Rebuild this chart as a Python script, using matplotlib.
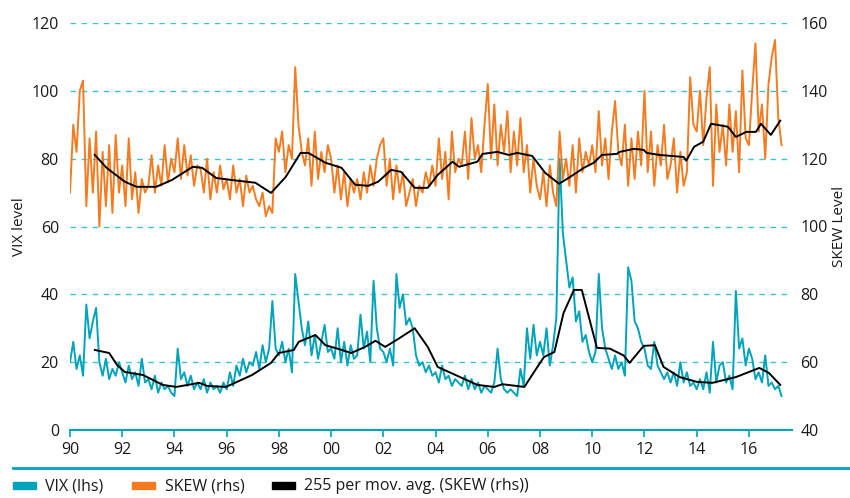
import numpy as np
import matplotlib
matplotlib.use("Agg")
import matplotlib.pyplot as plt
from matplotlib.lines import Line2D
from matplotlib.patches import Rectangle

plt.rcParams["font.family"] = ["Open Sans", "DejaVu Sans"]

# VIX (lhs), 8 readings per year from 1990, last ones early 2017
vix = (
    [20, 26, 18, 22, 16, 37, 27, 32]      # 1990
    + [36, 20, 16, 21, 15, 18, 16, 20]    # 1991
    + [17, 14, 19, 15, 17, 13, 21, 14]    # 1992
    + [15, 12, 16, 11, 14, 12, 13, 11]    # 1993
    + [10, 24, 15, 17, 13, 16, 12, 14]    # 1994
    + [12, 15, 11, 14, 12, 13, 11, 14]    # 1995
    + [12, 17, 13, 19, 16, 21, 17, 20]    # 1996
    + [19, 23, 18, 25, 20, 24, 38, 24]    # 1997
    + [22, 26, 20, 24, 17, 46, 38, 30]    # 1998
    + [25, 32, 22, 28, 21, 26, 31, 23]    # 1999
    + [24, 21, 30, 20, 26, 19, 25, 21]    # 2000
    + [22, 34, 24, 29, 20, 44, 30, 24]    # 2001
    + [23, 20, 24, 19, 46, 36, 40, 31]    # 2002
    + [33, 30, 22, 19, 20, 17, 19, 16]    # 2003
    + [17, 14, 19, 15, 16, 13, 15, 14]    # 2004
    + [13, 16, 12, 15, 12, 14, 11, 13]    # 2005
    + [12, 11, 14, 24, 15, 12, 11, 12]    # 2006
    + [11, 10, 18, 13, 30, 21, 31, 22]    # 2007
    + [26, 22, 30, 19, 25, 33, 80, 58]    # 2008
    + [50, 42, 45, 32, 35, 26, 28, 23]    # 2009
    + [20, 23, 46, 30, 24, 21, 18, 22]    # 2010
    + [18, 20, 16, 48, 44, 32, 30, 26]    # 2011
    + [24, 19, 18, 26, 19, 17, 15, 17]    # 2012
    + [14, 17, 13, 20, 14, 17, 13, 14]    # 2013
    + [12, 15, 12, 17, 11, 26, 14, 19]    # 2014
    + [20, 14, 16, 12, 41, 24, 27, 19]    # 2015
    + [24, 21, 15, 17, 14, 22, 13, 14]    # 2016
    + [12, 13, 10]                        # 2017
)

# SKEW (rhs), same spacing
skew = (
    [110, 130, 122, 140, 143, 106, 126, 110]    # 1990
    + [128, 100, 122, 106, 124, 104, 127, 110]  # 1991
    + [118, 106, 126, 108, 116, 104, 114, 110]  # 1992
    + [112, 121, 110, 118, 112, 124, 113, 120]  # 1993
    + [116, 126, 114, 124, 115, 121, 112, 118]  # 1994
    + [117, 110, 120, 108, 116, 110, 118, 111]  # 1995
    + [114, 108, 118, 110, 114, 106, 115, 110]  # 1996
    + [112, 108, 106, 110, 103, 106, 104, 126]  # 1997
    + [122, 128, 116, 124, 120, 147, 130, 122]  # 1998
    + [118, 126, 112, 128, 114, 122, 116, 124]  # 1999
    + [120, 110, 118, 108, 116, 106, 114, 110]  # 2000
    + [114, 108, 116, 110, 118, 112, 120, 124]  # 2001
    + [126, 112, 120, 108, 118, 110, 116, 106]  # 2002
    + [110, 114, 106, 112, 110, 116, 112, 118]  # 2003
    + [112, 126, 114, 122, 108, 128, 116, 120]  # 2004
    + [118, 128, 114, 132, 120, 124, 116, 130]  # 2005
    + [142, 120, 136, 118, 130, 122, 134, 116]  # 2006
    + [128, 118, 132, 116, 124, 110, 120, 112]  # 2007
    + [108, 116, 106, 118, 110, 106, 128, 114]  # 2008
    + [120, 112, 124, 110, 126, 116, 122, 118]  # 2009
    + [124, 116, 134, 118, 126, 114, 128, 137]  # 2010
    + [122, 118, 130, 112, 126, 114, 128, 118]  # 2011
    + [140, 116, 128, 112, 124, 118, 130, 114]  # 2012
    + [118, 126, 110, 122, 112, 116, 144, 130]  # 2013
    + [128, 140, 124, 138, 147, 112, 136, 122]  # 2014
    + [130, 118, 136, 122, 134, 116, 146, 126]  # 2015
    + [124, 140, 154, 128, 136, 120, 142, 150]  # 2016
    + [155, 132, 124]                           # 2017
)

# 255 day moving averages
vix_ma_years = [1990.95, 1991.5, 1991.8, 1992.1, 1992.8, 1993.55, 1994.07, 1994.95,
                1995.25, 1995.97, 1996.97, 1997.7, 1998.0, 1998.57, 1998.76, 1999.4,
                1999.78, 2000.28, 2000.77, 2001.3, 2001.7, 2002.07, 2002.56, 2003.2,
                2003.7, 2004.08, 2005.6, 2006.25, 2006.56, 2007.4, 2007.9, 2008.15,
                2008.55, 2008.9, 2009.3, 2009.6, 2010.18, 2010.67, 2011.2, 2011.43,
                2011.97, 2012.4, 2012.73, 2013.35, 2014.0, 2014.6, 2015.5, 2016.4,
                2016.77, 2017.2]
vix_ma = [23.6, 22.7, 19.2, 17.1, 16.2, 13.3, 12.7, 13.9, 13.0, 12.7, 16.2, 19.8,
          22.7, 23.6, 26.0, 28.0, 25.0, 23.9, 22.7, 24.5, 26.3, 24.5, 26.8, 30.0,
          24.5, 18.6, 13.3, 12.7, 13.5, 12.7, 18.6, 21.5, 23.0, 34.5, 41.3, 41.3,
          24.2, 24.0, 22.0, 19.8, 24.8, 25.0, 18.6, 15.6, 14.2, 13.9, 15.6, 18.3,
          16.8, 13.3]

skew_ma_years = [1990.95, 1991.4, 1992.1, 1992.55, 1993.3, 1993.9, 1994.7, 1995.06,
                 1995.6, 1996.2, 1997.1, 1997.7, 1998.26, 1998.83, 1999.13, 1999.78,
                 2000.4, 2000.92, 2001.42, 2001.8, 2002.3, 2002.68, 2003.2, 2003.7,
                 2004.08, 2004.65, 2004.9, 2005.6, 2005.8, 2006.37, 2006.8, 2007.13,
                 2007.7, 2008.2, 2008.73, 2009.15, 2009.68, 2010.06, 2010.37, 2010.94,
                 2011.05, 2011.6, 2011.97, 2012.08, 2012.57, 2013.5, 2013.6, 2013.9,
                 2014.25, 2014.55, 2015.2, 2015.5, 2015.9, 2016.27, 2016.46, 2016.84,
                 2017.2]
skew_ma = [121.1, 117.3, 113.2, 111.7, 111.7, 113.7, 117.6, 117.3, 114.3, 113.7,
           112.9, 109.9, 114.6, 121.7, 121.7, 118.8, 117.3, 112.3, 112.0, 113.2,
           116.7, 116.1, 111.4, 111.4, 115.2, 119.1, 117.6, 119.1, 121.4, 122.0,
           121.1, 121.7, 120.8, 115.8, 112.6, 114.6, 117.3, 118.8, 121.1, 121.4,
           122.0, 122.9, 122.6, 121.7, 121.1, 120.5, 119.4, 123.5, 125.0, 130.3,
           129.4, 126.4, 127.9, 127.9, 130.3, 127.0, 131.2]

tick_years = list(range(1990, 2017, 2))
tick_labels = ["%02d" % (y % 100) for y in tick_years]

teal = "#00a3b9"
orange = "#f47b20"
grid_col = "#3cc3d2"
text_col = "#1a1a1a"

vix_x = 1990 + np.arange(len(vix)) / 8
skew_x = 1990 + np.arange(len(skew)) / 8

fig = plt.figure(figsize=(8.5, 4.98), dpi=100)
ax = fig.add_axes([70 / 850, 1 - 430 / 498, 722 / 850, 407 / 498])
ax2 = ax.twinx()

ax.plot(vix_x, vix, color=teal, lw=1.4)
ax.plot(vix_ma_years, vix_ma, color="black", lw=1.4)
ax2.plot(skew_x, skew, color=orange, lw=1.4)
ax2.plot(skew_ma_years, skew_ma, color="black", lw=1.4)

ax.set_xlim(1990, 2017.65)
ax.set_ylim(0, 120)
ax2.set_ylim(40, 160)
ax.set_yticks(range(0, 121, 20))
ax2.set_yticks(range(40, 161, 20))
ax.set_xticks(tick_years)
ax.set_xticklabels(tick_labels)

for y in range(20, 121, 20):
    ax.axhline(y, color=grid_col, lw=1, ls=(0, (4, 4)), zorder=0)

for a in (ax, ax2):
    for s in ("top", "left", "right", "bottom"):
        a.spines[s].set_visible(False)
ax.spines["bottom"].set_visible(True)
ax.spines["bottom"].set_color(teal)
ax.spines["bottom"].set_linewidth(1.5)

ax.tick_params(axis="x", colors=teal, length=5, width=1.2, labelcolor=text_col,
               labelsize=11.5, pad=4)
ax.tick_params(axis="y", length=0, labelsize=11.5, labelcolor=text_col, pad=8)
ax2.tick_params(axis="y", length=0, labelsize=11.5, labelcolor=text_col, pad=6)

ax.set_ylabel("VIX level", fontsize=11, color=text_col, labelpad=3)
ax2.set_ylabel("SKEW Level", fontsize=11, color=text_col, labelpad=3)

# legend under the chart
fig.add_artist(Line2D([13 / 850, 1], [1 - 468 / 498] * 2, color=teal, lw=2))
items = [(13, 45, teal, "VIX (lhs)"),
         (132, 165, orange, "SKEW (rhs)"),
         (272, 304, "black", "255 per mov. avg. (SKEW (rhs))")]
for px, tx, col, lab in items:
    fig.add_artist(Rectangle((px / 850, 1 - 489 / 498), 23 / 850, 7 / 498,
                             color=col, transform=fig.transFigure))
    fig.text(tx / 850, 1 - 486 / 498, lab, fontsize=11.5, color=text_col,
             va="center", ha="left")

fig.savefig("out.png", dpi=100)
